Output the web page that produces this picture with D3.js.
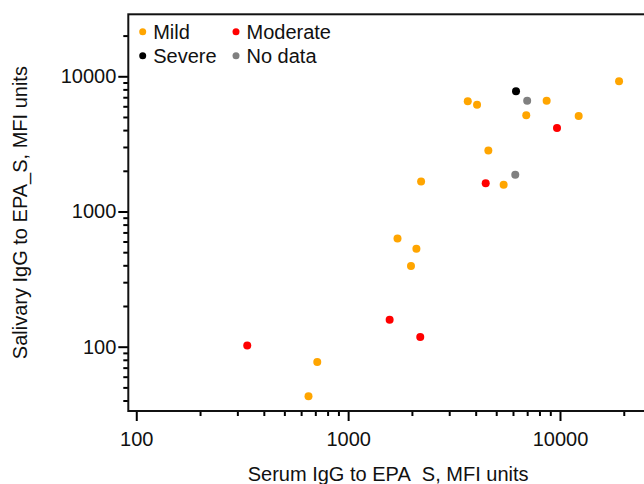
<!DOCTYPE html>
<html>
<head>
<meta charset="utf-8">
<script src="https://cdn.jsdelivr.net/npm/d3@7"></script>
<style>
  body { margin: 0; background: #fff; }
  svg { display: block; font-family: "Liberation Sans", Arial, sans-serif; }
</style>
</head>
<body>
<div id="chart"></div>
<script>
// serum vs salivary IgG (MFI units), one entry per participant
var serum  = [19000, 6200, 7000, 8650, 3670, 4060, 6930, 12250, 9680, 4590, 6150,
              4460, 5420, 2210, 1710, 2100, 1980, 1570, 2190, 334, 715, 650];
var saliva = [9200, 7750, 6600, 6600, 6530, 6170, 5150, 5090, 4150, 2820, 1870,
              1620, 1580, 1670, 630, 530, 395, 158, 118, 102, 77, 43];
var severity = ["Mild", "Severe", "No data", "Mild", "Mild", "Mild", "Mild", "Mild", "Moderate", "Mild", "No data",
                "Moderate", "Mild", "Mild", "Mild", "Mild", "Mild", "Moderate", "Moderate", "Moderate", "Mild", "Mild"];

var groups = ["Mild", "Moderate", "Severe", "No data"];
var groupColors = ["#FFA500", "#FF0000", "#000000", "#808080"];

var xMajor = [100, 1000, 10000];
var xMinor = [200, 300, 400, 500, 600, 700, 800, 900, 2000, 3000, 4000, 5000, 6000, 7000, 8000, 9000, 20000];
var yMajor = [100, 1000, 10000];
var yMinor = [40, 50, 60, 70, 80, 90, 200, 300, 400, 500, 600, 700, 800, 900,
              2000, 3000, 4000, 5000, 6000, 7000, 8000, 9000, 20000];

var width = 644, height = 484;
// plot box (note: "top" is taken by window.top)
var pLeft = 128.3, pTop = 14.3, pRight = 648, pBottom = 411;

var svg = d3.select("#chart").append("svg")
    .attr("width", width)
    .attr("height", height);

var x = d3.scaleLog().domain([91.7, 26025]).range([pLeft, pRight]);
var y = d3.scaleLog().domain([33.45, 28740]).range([pBottom, pTop]);

var color = d3.scaleOrdinal().domain(groups).range(groupColors);

//minor ticks first, no labels
svg.append("g")
    .attr("class", "axis")
    .attr("transform", "translate(0," + pBottom + ")")
    .call(d3.axisBottom(x).tickValues(xMinor).tickSize(5).tickFormat(""));
svg.append("g")
    .attr("class", "axis")
    .attr("transform", "translate(0," + pBottom + ")")
    .call(d3.axisBottom(x).tickValues(xMajor).tickSize(10).tickPadding(11).tickFormat(d3.format("d")));

svg.append("g")
    .attr("class", "axis")
    .attr("transform", "translate(" + pLeft + ",0)")
    .call(d3.axisLeft(y).tickValues(yMinor).tickSize(5).tickFormat(""));
svg.append("g")
    .attr("class", "axis")
    .attr("transform", "translate(" + pLeft + ",0)")
    .call(d3.axisLeft(y).tickValues(yMajor).tickSize(10).tickPadding(2).tickFormat(d3.format("d")));

svg.selectAll(".axis .domain").remove();
svg.selectAll(".axis line").attr("stroke", "#000").attr("stroke-width", 2);
svg.selectAll(".axis text").attr("font-size", "20px").attr("fill", "#111")
    .attr("font-family", "Liberation Sans, Arial, sans-serif");

// plot frame
svg.append("rect")
    .attr("x", pLeft)
    .attr("y", pTop)
    .attr("width", pRight - pLeft)
    .attr("height", pBottom - pTop)
    .attr("fill", "none")
    .attr("stroke", "#111")
    .attr("stroke-width", 2);

// points
svg.append("g")
    .selectAll("circle")
    .data(serum)
    .enter().append("circle")
    .attr("cx", function(d) { return x(d); })
    .attr("cy", function(d, i) { return y(saliva[i]); })
    .attr("r", 4)
    .attr("fill", function(d, i) { return color(severity[i]); });

// legend, 2 columns
var legend = svg.append("g");
for (var i = 0; i < groups.length; i++) {
    var item = legend.append("g")
        .attr("transform", "translate(" + (142.7 + (i % 2) * 93.3) + "," + (31.7 + Math.floor(i / 2) * 24) + ")");
    item.append("circle")
        .attr("r", 3.5)
        .attr("fill", groupColors[i]);
    item.append("text")
        .attr("x", 10.5)
        .attr("y", 6.8)
        .attr("font-size", "20px")
        .attr("fill", "#111")
        .text(groups[i]);
}

// axis titles
svg.append("text")
    .attr("x", (pLeft + pRight) / 2)
    .attr("y", 481)
    .attr("text-anchor", "middle")
    .attr("font-size", "20px")
    .attr("fill", "#111")
    .text("Serum IgG to EPA_S, MFI units");

svg.append("text")
    .attr("transform", "translate(27," + ((pTop + pBottom) / 2) + ") rotate(-90)")
    .attr("text-anchor", "middle")
    .attr("font-size", "20px")
    .attr("fill", "#111")
    .text("Salivary IgG to EPA_S, MFI units");
</script>
</body>
</html>
